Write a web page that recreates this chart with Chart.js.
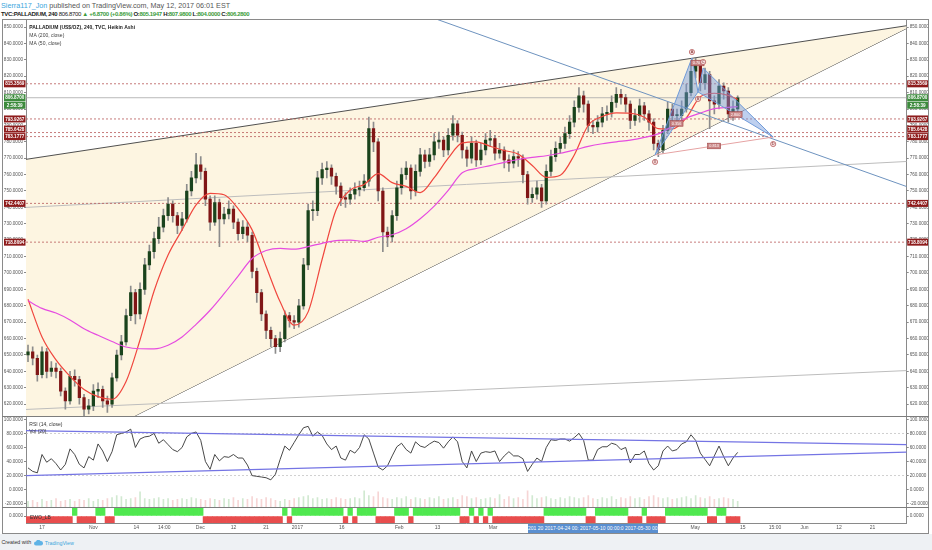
<!DOCTYPE html>
<html>
<head>
<meta charset="utf-8">
<title>PALLADIUM (US$/OZ), 240, TVC, Heikin Ashi</title>
<script src="https://cdn.jsdelivr.net/npm/chart.js@4.4.1/dist/chart.umd.min.js"></script>
<style>
  html, body { margin: 0; padding: 0; }
  body { width: 932px; height: 550px; position: relative; overflow: hidden; background: #fff;
         font-family: 'Liberation Sans', Arial, sans-serif; }
  .abs { position: absolute; }
  .pane { position: absolute; left: 0; width: 929px; }
  #head1 { left: 1px; top: 0.5px; font-size: 7.2px; line-height: 9px; color: #555; white-space: nowrap; }
  #head2 { left: 1px; top: 10px; font-size: 6px; letter-spacing: -0.33px; line-height: 8px; color: #222; font-weight: bold; white-space: nowrap; }
  .blue { color: #3aa6dd; }
  .up { color: #3c9c3c; }
  #frame { left: 2px; top: 19px; width: 927px; height: 515px; border: 1px solid #8a8a8a; box-sizing: border-box; }
  .sep { left: 2px; width: 927px; height: 1px; background: #7d7d7d; }
  #crossDate { left: 528px; top: 524px; width: 130px; height: 9px; background: #5a8fd0; color: #fff;
               font-size: 5px; line-height: 9px; text-align: center; white-space: nowrap; overflow: hidden; }
  #foot { left: 0; top: 534px; width: 932px; height: 16px; background: #eef1f4; font-size: 5.3px; color: #333;
          line-height: 16px; white-space: nowrap; }
  #foot span, #foot svg { vertical-align: middle; }
</style>
</head>
<body>
<div id="head1" class="abs"><span class="blue">Sierra117_Jon</span> published on TradingView.com, May 12, 2017 06:01 EST</div>
<div id="head2" class="abs">TVC:PALLADIUM, 240 <span style="font-weight:normal">806.8700</span> <span class="up">&#9650; +6.8700 (+0.86%)</span> O:<span class="up">805.1947</span> H:<span class="up">807.9800</span> L:<span class="up">804.0000</span> C:<span class="up">806.2800</span></div>

<div class="pane" style="top:20px;height:396px"><canvas id="mainChart"></canvas></div>
<div class="pane" style="top:417px;height:90px"><canvas id="rsiChart"></canvas></div>
<div class="pane" style="top:508px;height:25px"><canvas id="ewoChart"></canvas></div>

<div id="frame" class="abs"></div>
<div class="abs sep" style="top:416px"></div>
<div class="abs sep" style="top:507px"></div>
<div id="crossDate" class="abs">201 20 2017-04-24 00: 2017-05-10 00:00:0 2017-05-30 00:00:00</div>
<div id="foot" class="abs">&nbsp;Created with&nbsp;&nbsp;<svg width="9" height="6" viewBox="0 0 18 12"><path d="M4 11 a4 4 0 0 1 0-8 a5 5 0 0 1 9-1 a4.5 4.5 0 0 1 1 9 z" fill="#5fb3e6"/></svg>&nbsp;<span class="blue">TradingView</span></div>

<script>
// x is a trading-day index, 0 = Mon 17 Oct 2016, 149 = Fri 12 May 2017
const X_MIN = -3.43
const X_MAX = 185.2
const firstIndex = -3

// Heikin Ashi candles, one per trading day
const openValues = [
  650, 652, 648, 638, 652, 640, 642, 640, 628, 622,
  637, 635, 624, 617, 619, 628, 629, 622, 620, 636,
  650, 658, 674, 688, 675, 690, 705, 713, 721, 728,
  735, 742, 735, 729, 733, 750, 758, 766, 762, 745,
  731, 743, 733, 736, 739, 731, 724, 728, 723, 701,
  688, 675, 665, 660, 655, 660, 674, 671, 670, 680,
  705, 738, 738, 758, 763, 764, 759, 753, 746, 745,
  748, 751, 752, 756, 788, 780, 750, 725, 722, 735,
  752, 760, 764, 750, 762, 772, 768, 772, 780, 781,
  775, 784, 791, 784, 775, 770, 779, 769, 775, 781,
  782, 773, 775, 769, 767, 771, 770, 760, 746, 748,
  752, 744, 762, 771, 776, 779, 785, 792, 801, 808,
  803, 790, 789, 792, 797, 798, 804, 809, 807, 803,
  793, 796, 802, 797, 792, 779, 775, 787, 800, 796,
  796, 800, 810, 823, 827, 816, 821, 805, 803, 814,
  811, 797, 800
]
const highValues = [
  656, 655, 650, 655, 654, 646, 645, 642, 630, 640,
  641, 637, 626, 623, 632, 633, 631, 625, 639, 653,
  662, 678, 692, 690, 694, 709, 717, 725, 734, 739,
  746, 744, 737, 737, 754, 762, 773, 771, 764, 747,
  747, 745, 740, 744, 741, 733, 732, 731, 725, 703,
  690, 677, 667, 662, 664, 677, 676, 674, 684, 709,
  742, 744, 762, 767, 768, 766, 761, 755, 749, 752,
  755, 756, 760, 795, 792, 782, 752, 728, 738, 756,
  764, 768, 766, 766, 776, 775, 776, 785, 786, 783,
  788, 796, 793, 786, 777, 783, 781, 779, 785, 787,
  784, 779, 777, 772, 775, 774, 772, 762, 752, 756,
  754, 766, 775, 780, 783, 789, 796, 805, 813, 811,
  805, 793, 796, 801, 802, 808, 813, 812, 809, 805,
  800, 806, 804, 799, 794, 781, 790, 804, 803, 800,
  805, 815, 828, 831, 829, 825, 823, 808, 818, 816,
  813, 805, 807.98
]
const lowValues = [
  646, 644, 634, 636, 636, 637, 636, 625, 617, 620,
  631, 620, 613, 614, 616, 624, 618, 615, 618, 634,
  647, 656, 671, 669, 672, 687, 702, 709, 718, 725,
  732, 731, 724, 726, 731, 747, 755, 757, 741, 726,
  729, 716, 730, 733, 727, 720, 721, 719, 697, 682,
  671, 660, 655, 651, 652, 658, 667, 666, 667, 678,
  702, 732, 735, 754, 758, 754, 748, 741, 740, 742,
  745, 747, 750, 753, 774, 744, 713, 716, 719, 732,
  748, 757, 745, 747, 759, 764, 765, 769, 776, 771,
  772, 781, 780, 770, 765, 767, 765, 766, 772, 777,
  769, 770, 764, 762, 764, 765, 755, 742, 743, 745,
  740, 742, 759, 768, 773, 776, 782, 789, 798, 798,
  786, 785, 786, 789, 793, 795, 801, 803, 798, 788,
  790, 792, 793, 787, 775, 771, 773, 785, 792, 791,
  793, 798, 808, 819, 811, 812, 788, 797, 800, 806,
  792, 793, 797
]
const closeValues = [
  652, 648, 638, 652, 640, 642, 640, 628, 622, 637,
  635, 624, 617, 619, 628, 629, 622, 620, 636, 650,
  658, 674, 688, 675, 690, 705, 713, 721, 728, 735,
  742, 735, 729, 733, 750, 758, 766, 762, 745, 731,
  743, 733, 736, 739, 731, 724, 728, 723, 701, 688,
  675, 665, 660, 655, 660, 674, 671, 670, 680, 705,
  738, 738, 758, 763, 764, 759, 753, 746, 745, 748,
  751, 752, 756, 788, 780, 750, 725, 722, 735, 752,
  760, 764, 750, 762, 772, 768, 772, 780, 781, 775,
  784, 791, 784, 775, 770, 779, 769, 775, 781, 782,
  773, 775, 769, 767, 771, 770, 760, 746, 748, 752,
  744, 762, 771, 776, 779, 785, 792, 801, 808, 803,
  790, 789, 792, 797, 798, 804, 809, 807, 803, 793,
  796, 802, 797, 792, 779, 775, 787, 800, 796, 796,
  800, 810, 823, 827, 816, 821, 805, 803, 814, 811,
  797, 800, 806.87
]

// moving averages, read every third day
const maIndex = [
  -3, 0, 3, 6, 9, 12, 15, 18, 21, 24, 27, 30, 33, 36, 39, 42, 45, 48, 51, 54,
  57, 60, 63, 66, 69, 72, 75, 78, 81, 84, 87, 90, 93, 96, 99, 102, 105, 108, 111, 114,
  117, 120, 123, 126, 129, 132, 135, 138, 141, 144, 147, 149
]
const ma50Values = [
  684, 661, 647, 637, 629, 624.6, 623, 633.9, 659.3, 689, 711, 726.3, 741.6, 748.6, 747.7, 739.2, 726.3, 704, 682.4, 668.2,
  676.3, 708.4, 738.6, 750.5, 754, 760.6, 755.1, 752.8, 749, 758.1, 770, 779.3, 780, 777.3, 774.7, 772.5, 765.6, 758.3, 759.6, 772,
  790.1, 795.4, 797.6, 797.4, 795, 788, 787.8, 794.6, 807.5, 809.6, 808.3, 805.8
]
const ma200Values = [
  683.1, 678.4, 675.6, 671.4, 666, 662, 658.2, 654.9, 653.8, 653.7, 655.9, 661, 668.7, 677.3, 687.4, 698.1, 708.8, 713.7, 715, 714.5,
  716.1, 718.1, 719.7, 720, 719.3, 721.8, 723.3, 727, 733.1, 740.8, 750.4, 761.1, 763.7, 765.5, 767.5, 769.2, 770.5, 771.5, 773, 775,
  777.2, 778.8, 780, 781, 782.7, 784.8, 789.5, 794.5, 797.5, 800.2, 801, 801.4
]

// RSI (14, close)
const rsiValues = [
  31, 26, 24, 50, 39, 44, 37, 28, 36, 58,
  50, 36, 31, 47, 42, 65, 55, 40, 54, 78,
  80, 82, 86, 60, 72, 75, 76, 80, 66, 71,
  64, 57, 54, 60, 75, 80, 82, 70, 40, 29,
  50, 41, 47, 46, 50, 45, 45, 35, 20, 19,
  18, 17, 14, 22, 43, 62, 56, 67, 78, 88,
  90, 76, 82, 77, 65, 57, 62, 45, 42, 56,
  52, 60, 78, 72, 52, 32, 28, 34, 48, 61,
  66, 57, 52, 68, 62, 60, 65, 69, 67, 59,
  68, 75, 68, 40, 31, 55, 40, 52, 54, 53,
  55, 40, 48, 54, 48, 48, 44, 26, 36, 45,
  40, 60, 71, 70, 72, 72, 69, 74, 80, 70,
  42, 42, 57, 61, 61, 66, 64, 57, 60, 38,
  50, 50, 55, 37, 28, 34, 55, 62, 55, 57,
  65, 68, 78, 70, 52, 43, 34, 48, 62, 47,
  34, 45, 53
]

// Vol (20)
const volumeValues = [
  6, 7, 5, 8, 6, 7, 9, 6, 7, 8,
  6, 8, 7, 9, 6, 8, 7, 9, 10, 12,
  11, 8, 9, 10, 16, 9, 8, 9, 10, 8,
  9, 7, 8, 9, 8, 10, 9, 8, 7, 9,
  8, 7, 9, 8, 10, 7, 9, 8, 11, 9,
  8, 10, 9, 7, 6, 8, 7, 9, 10, 11,
  12, 9, 10, 8, 9, 8, 10, 9, 8, 9,
  10, 9, 17, 12, 11, 16, 10, 9, 8, 10,
  9, 11, 8, 10, 9, 8, 10, 9, 11, 8,
  9, 10, 8, 12, 11, 9, 10, 8, 9, 10,
  9, 13, 8, 11, 9, 10, 8, 17, 12, 9,
  10, 11, 9, 8, 10, 9, 11, 10, 9, 10,
  12, 9, 8, 10, 9, 11, 8, 10, 9, 11,
  9, 10, 8, 11, 12, 10, 9, 10, 8, 9,
  10, 11, 9, 12, 10, 9, 11, 8, 9, 10,
  9, 8, 6
]

// EWO_LB histogram (every bar runs past the pane, so it shows as a full block)
const ewoValues = [
  -2, -2, -2, -2, -2, -2, -2, -2, -2, -2,
  2, -2, -2, -2, -2, 2, 2, -2, -2, 2,
  2, 2, 2, 2, 2, 2, 2, 2, 2, 2,
  2, 2, 2, 2, 2, 2, 2, 2, -2, -2,
  -2, -2, -2, -2, -2, -2, -2, -2, -2, -2,
  -2, -2, -2, -2, -2, 2, -2, 2, 2, 2,
  2, 2, 2, 2, 2, 2, 2, 2, -2, 2,
  -2, 2, 2, 2, 2, -2, -2, -2, -2, 2,
  2, 2, -2, 2, 2, 2, 2, 2, 2, 2,
  2, 2, 2, -2, -2, 2, -2, 2, -2, 2,
  -2, -2, -2, -2, -2, -2, -2, -2, -2, -2,
  -2, 2, 2, 2, 2, 2, 2, 2, 2, 2,
  -2, -2, 2, 2, 2, 2, 2, 2, 2, -2,
  -2, -2, 2, -2, -2, -2, -2, 2, 2, 2,
  2, 2, 2, 2, 2, 2, -2, -2, 2, 2,
  -2, -2, -2
]

const priceTicks = [620, 630, 640, 650, 660, 670, 680, 690, 700, 710, 720, 730, 740, 750, 760, 770, 780, 790, 800, 810, 820, 830, 840, 850]
const rsiTicks = [-20, 0, 20, 40, 60, 80, 100]
const ewoTicks = [0]
const xTickValues = [0, 11, 20.2, 26.2, 33.9, 41, 48, 54.7, 64.2, 76.5, 84.7, 96.6, 139.9, 150.1, 157, 163.3, 170.7, 177.9]
const xTickLabels = ['17', 'Nov', '14', '14:00', 'Dec', '12', '21', '2017', '16', 'Feb', '13', 'Mar', 'May', '15', '15:00', 'Jun', '12', '21']

// horizontal levels and last price
const levelValues = [815.3569, 793.9267, 785.6428, 783.1777, 742.4407, 718.8094]
const lastPrice = 806.87
const countdownText = '2:58:39'

// drawings: [index, price] end points
const wedgeUpper = [[-3.43, 769.3], [185.2, 850.8]]
const wedgeLower = [[-3.43, 579.5], [185.2, 849.2]]
const grayLineUpper = [[-3.43, 740], [185.2, 768]]
const grayLineLower = [[-3.43, 616.8], [185.2, 640.5]]
const blueLine = [[75, 864.4], [185.2, 752.7]]
const rsiUpper = [[-3.43, 83.8], [185.2, 63.9]]
const rsiLower = [[-3.43, 19.9], [185.2, 53.5]]

// XABCD pattern
const patternNames = ['X', 'A', 'B', 'C', 'D']
const patternIndex = [131.3, 139.2, 140.5, 141.6, 156.6]
const patternPrice = [772, 831.1, 810.4, 825, 782.9]
const patternRatioPairs = [[0, 2], [1, 3], [2, 4], [0, 4]]
const patternRatioTexts = ['0.356', '0.707', '2.800', '0.813']

const FONT = '"Liberation Sans", Arial, sans-serif'
const UP = '#1a431c'
const DOWN = '#801616'
const LEVEL_BOX = '#8e1c1c'
const LAST_BOX = '#3d8b3d'

Chart.defaults.font.family = FONT

const pts = arr => arr.map(([x, y]) => ({ x, y }))
const candleX = closeValues.map((c, k) => firstIndex + k)
const isUp = closeValues.map((c, k) => c >= openValues[k])
const patternPoint = i => ({ x: patternIndex[i], y: patternPrice[i] })

function lineSet (data, color, width, extra) {
  return Object.assign({
    type: 'line', data, yAxisID: 'y', borderColor: color, borderWidth: width,
    pointRadius: 0, fill: false, tension: 0
  }, extra)
}

function valueAxis (position, min, max, ticks, width) {
  return {
    position, min, max,
    afterBuildTicks: s => { s.ticks = ticks.map(v => ({ value: v })) },
    afterFit: s => { s.width = width; s.paddingTop = 0; s.paddingBottom = 0 },
    ticks: { callback: v => Number(v).toFixed(4), font: { size: 4.6 }, color: '#555', padding: 1, autoSkip: false },
    grid: { drawOnChartArea: false, tickLength: 2, color: '#8a8a8a' },
    border: { color: '#8a8a8a' }
  }
}

const hiddenX = { type: 'linear', min: X_MIN, max: X_MAX, display: false, offset: false }

function options (scales) {
  return {
    responsive: true, maintainAspectRatio: false, animation: false, events: [],
    layout: { padding: 0 },
    plugins: { legend: { display: false }, tooltip: { enabled: false } },
    scales
  }
}

function priceBox (ctx, x, y, w, text, color) {
  ctx.fillStyle = color
  ctx.fillRect(x, y - 3.5, w, 7)
  ctx.fillStyle = '#fff'
  ctx.fillText(text, x + w / 2, y + 0.3)
}

const mainOverlay = {
  id: 'mainOverlay',
  afterDraw (chart) {
    const { ctx, chartArea: area, scales: { x, y } } = chart
    ctx.save()
    ctx.textBaseline = 'middle'
    ctx.textAlign = 'left'
    ctx.fillStyle = '#222'
    ctx.font = 'bold 5px ' + FONT
    ctx.fillText('PALLADIUM (US$/OZ), 240, TVC, Heikin Ashi', area.left + 3.3, 8)
    ctx.fillStyle = '#444'
    ctx.font = '5px ' + FONT
    ctx.fillText('MA (200, close)', area.left + 3.3, 16)
    ctx.fillText('MA (50, close)', area.left + 3.3, 24)

    // pattern ratio boxes
    ctx.textAlign = 'center'
    ctx.font = '3.8px ' + FONT
    patternRatioPairs.forEach(([a, b], k) => {
      const mx = (x.getPixelForValue(patternIndex[a]) + x.getPixelForValue(patternIndex[b])) / 2
      const my = (y.getPixelForValue(patternPrice[a]) + y.getPixelForValue(patternPrice[b])) / 2
      ctx.fillStyle = '#c98484'
      ctx.strokeStyle = '#a04545'
      ctx.lineWidth = 0.6
      ctx.fillRect(mx - 6.5, my - 2.8, 13, 5.6)
      ctx.strokeRect(mx - 6.5, my - 2.8, 13, 5.6)
      ctx.fillStyle = '#fff'
      ctx.fillText(patternRatioTexts[k], mx, my + 0.2)
    })

    // pattern point labels
    patternNames.forEach((name, i) => {
      const p = patternPrice[i]
      const prev = patternPrice[i - 1]
      const next = patternPrice[i + 1]
      const peak = (prev === undefined || p > prev) && (next === undefined || p > next)
      const cx = x.getPixelForValue(patternIndex[i])
      const cy = y.getPixelForValue(p) + (peak ? -6 : 7)
      ctx.beginPath()
      ctx.arc(cx, cy, 2.6, 0, Math.PI * 2)
      ctx.fillStyle = '#f6dede'
      ctx.fill()
      ctx.strokeStyle = '#b04e4e'
      ctx.lineWidth = 0.7
      ctx.stroke()
      ctx.fillStyle = '#7a2323'
      ctx.fillText(name, cx, cy + 0.2)
    })

    // price labels on both axes
    const items = levelValues.map(v => ({ y: y.getPixelForValue(v), text: v.toFixed(4), color: LEVEL_BOX }))
    const lastY = y.getPixelForValue(lastPrice)
    items.push({ y: lastY, text: lastPrice.toFixed(4), color: LAST_BOX })
    items.push({ y: lastY + 7.5, text: countdownText, color: LAST_BOX })
    items.sort((a, b) => b.y - a.y)
    for (let k = 1; k < items.length; k++) {
      if (items[k].y > items[k - 1].y - 7.5) items[k].y = items[k - 1].y - 7.5
    }
    ctx.font = 'bold 4.6px ' + FONT
    items.forEach(it => {
      priceBox(ctx, 4, it.y, area.left - 4.5, it.text, it.color)
      priceBox(ctx, area.right + 0.5, it.y, 21, it.text, it.color)
    })
    ctx.restore()
  }
}

new Chart(document.getElementById('mainChart'), {
  type: 'bar',
  data: {
    datasets: [
      lineSet(pts(wedgeUpper), '#505050', 1, { fill: '+1', backgroundColor: '#fdf5e1', order: 20 }),
      lineSet(pts(wedgeLower), '#505050', 1, { order: 20 }),
      lineSet(pts(grayLineUpper), '#bdbdbd', 1, { order: 19 }),
      lineSet(pts(grayLineLower), '#bdbdbd', 1, { order: 19 }),
      ...levelValues.map(v => lineSet(pts([[X_MIN, v], [X_MAX, v]]), '#b85a5a', 0.8, { borderDash: [2, 2], order: 18 })),
      lineSet(pts([[X_MIN, lastPrice], [X_MAX, lastPrice]]), '#a8a8a8', 0.8, { order: 18 }),
      {
        type: 'bar', yAxisID: 'y', grouped: false, order: 9,
        data: candleX.map((x, k) => ({ x, y: [lowValues[k], highValues[k]] })),
        backgroundColor: '#8c8c8c', barThickness: 1
      },
      {
        type: 'bar', yAxisID: 'y', grouped: false, order: 8,
        data: candleX.map((x, k) => ({ x, y: [openValues[k], closeValues[k]] })),
        backgroundColor: isUp.map(u => u ? UP : DOWN), barThickness: 2.6, minBarLength: 1
      },
      lineSet(maIndex.map((x, k) => ({ x, y: ma200Values[k] })), '#e64ce0', 1.2, { cubicInterpolationMode: 'monotone', order: 7 }),
      lineSet(maIndex.map((x, k) => ({ x, y: ma50Values[k] })), '#f0473e', 1.2, { cubicInterpolationMode: 'monotone', order: 7 }),
      lineSet(pts(blueLine), '#6e93bf', 1, { order: 6 }),
      lineSet([0, 1, 2, 0].map(patternPoint), '#6f9ad8', 1, { fill: 'shape', backgroundColor: 'rgba(110,150,220,0.45)', order: 5 }),
      lineSet([2, 3, 4, 2].map(patternPoint), '#6f9ad8', 1, { fill: 'shape', backgroundColor: 'rgba(110,150,220,0.45)', order: 5 }),
      lineSet([0, 4].map(patternPoint), '#e6a3a3', 1, { order: 5 })
    ]
  },
  options: options({
    x: hiddenX,
    y: valueAxis('left', 612.8, 854.27, priceTicks, 26),
    y2: valueAxis('right', 612.8, 854.27, priceTicks, 22.3)
  }),
  plugins: [mainOverlay]
})

const rsiOverlay = {
  id: 'rsiOverlay',
  afterDraw (chart) {
    const { ctx, chartArea: area } = chart
    ctx.save()
    ctx.textBaseline = 'middle'
    ctx.fillStyle = '#333'
    ctx.font = '5px ' + FONT
    ctx.fillText('RSI (14, close)', area.left + 3.3, 7.7)
    ctx.fillText('Vol (20)', area.left + 3.3, 15)
    ctx.restore()
  }
}

new Chart(document.getElementById('rsiChart'), {
  type: 'bar',
  data: {
    datasets: [
      lineSet(pts([[X_MIN, 80], [X_MAX, 80]]), '#c4c4c4', 0.8, { borderDash: [2, 2], order: 10 }),
      lineSet(pts([[X_MIN, 20], [X_MAX, 20]]), '#c4c4c4', 0.8, { borderDash: [2, 2], order: 10 }),
      {
        type: 'bar', yAxisID: 'yVol', grouped: false, order: 9,
        data: candleX.map((x, k) => ({ x, y: volumeValues[k] })),
        backgroundColor: isUp.map(u => u ? 'rgba(140,200,140,0.4)' : 'rgba(232,150,150,0.4)'), barThickness: 1
      },
      lineSet(candleX.map((x, k) => ({ x, y: rsiValues[k] })), '#333333', 0.9, { order: 5 }),
      lineSet(pts(rsiUpper), '#7474e4', 1.2, { order: 4 }),
      lineSet(pts(rsiLower), '#7474e4', 1.2, { order: 4 })
    ]
  },
  options: options({
    x: hiddenX,
    y: valueAxis('left', -24.57, 103.27, rsiTicks, 26),
    y2: valueAxis('right', -24.57, 103.27, rsiTicks, 22.3),
    yVol: { display: false, min: 0, max: 95 }
  }),
  plugins: [rsiOverlay]
})

// time-axis labels are placed through the EWO chart's own x scale
const ewoOverlay = {
  id: 'ewoOverlay',
  afterDraw (chart) {
    const { ctx, chartArea: area, scales: { x } } = chart
    ctx.save()
    ctx.textBaseline = 'middle'
    ctx.fillStyle = '#333'
    ctx.font = '5px ' + FONT
    ctx.fillText('EWO_LB', area.left + 4, 9.5)
    ctx.textAlign = 'center'
    ctx.fillStyle = '#555'
    xTickValues.forEach((v, k) => {
      ctx.fillText(xTickLabels[k], x.getPixelForValue(v), area.bottom + 5)
    })
    ctx.restore()
  }
}

new Chart(document.getElementById('ewoChart'), {
  type: 'bar',
  data: {
    datasets: [{
      type: 'bar', yAxisID: 'y', grouped: false,
      data: candleX.map((x, k) => ({ x, y: ewoValues[k] })),
      backgroundColor: ewoValues.map(v => v >= 0 ? '#4fe84f' : '#e84d4d'),
      barPercentage: 1, categoryPercentage: 1
    }]
  },
  options: options({
    x: {
      type: 'linear', min: X_MIN, max: X_MAX, offset: false, position: 'bottom',
      afterFit: s => { s.height = 10; s.paddingLeft = 0; s.paddingRight = 0 },
      ticks: { display: false },
      grid: { display: false },
      border: { display: true, color: '#8a8a8a' }
    },
    y: valueAxis('left', -1, 1.15, ewoTicks, 26),
    y2: valueAxis('right', -1, 1.15, ewoTicks, 22.3)
  }),
  plugins: [ewoOverlay]
})
</script>
</body>
</html>
